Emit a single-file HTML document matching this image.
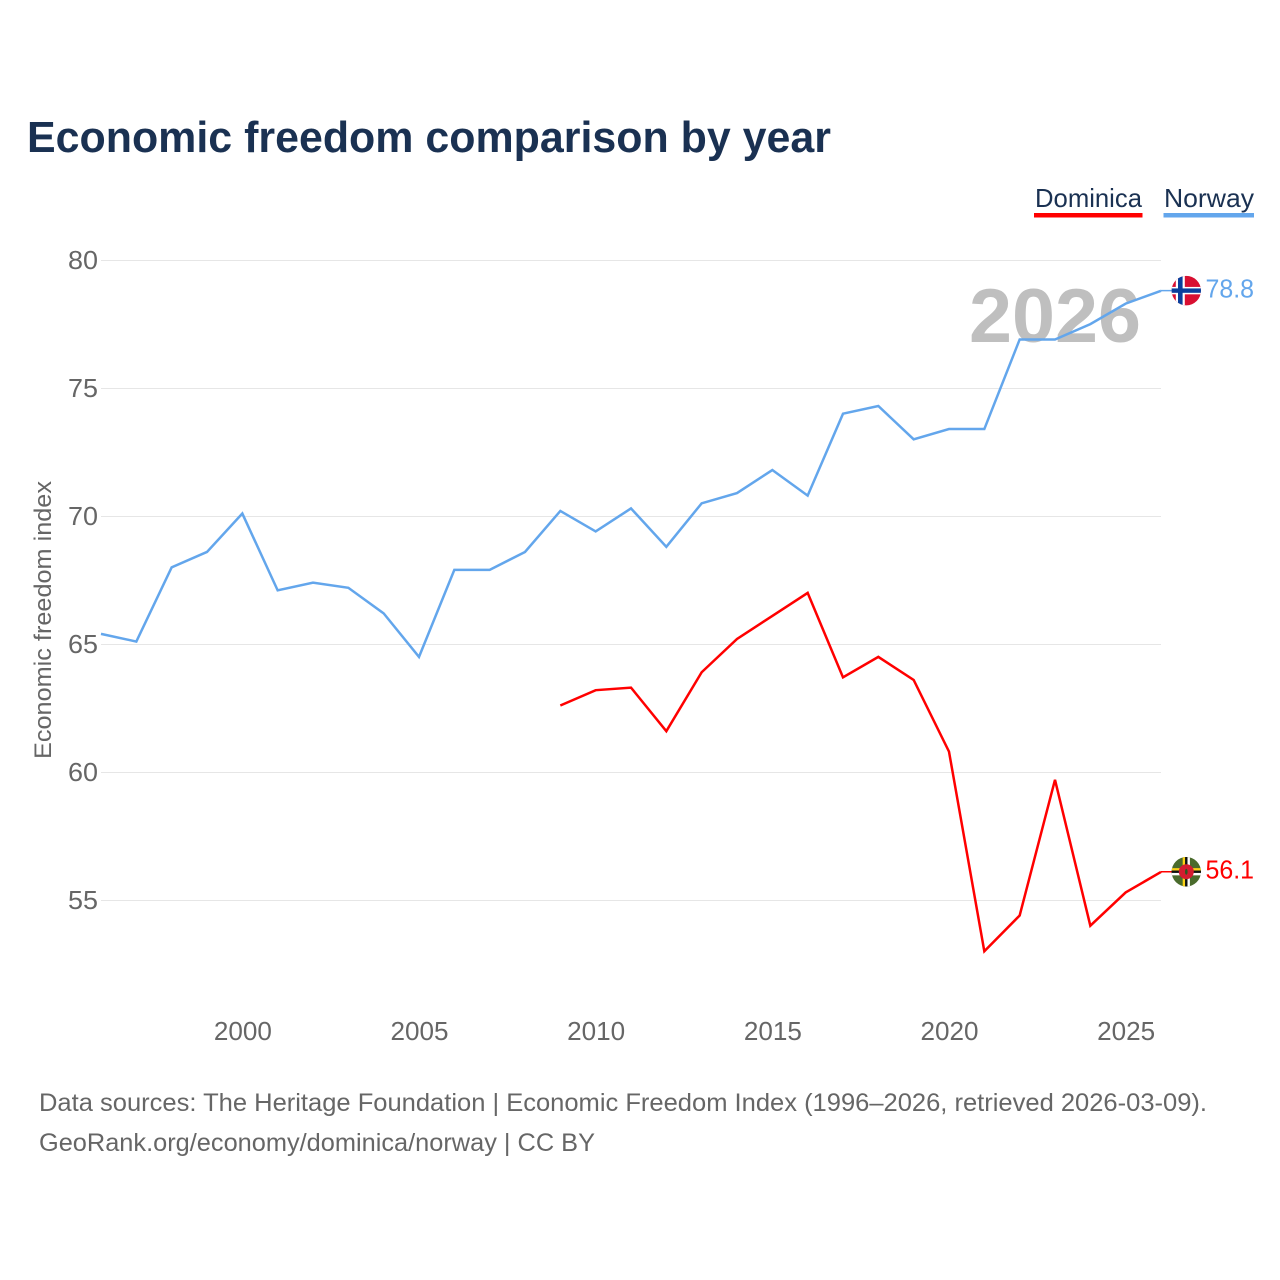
<!DOCTYPE html>
<html lang="en">
<head>
<meta charset="utf-8">
<title>Economic freedom comparison by year</title>
<style>
html,body{margin:0;padding:0;background:#fff;}
svg{display:block;font-family:"Liberation Sans",sans-serif;}
</style>
</head>
<body>
<svg id="chart" width="1280" height="1280" viewBox="0 0 1280 1280" xmlns="http://www.w3.org/2000/svg">
  <rect width="1280" height="1280" fill="#fff"/>
  <text x="27" y="152" font-size="44" font-weight="700" fill="#1a3152" textLength="804" lengthAdjust="spacingAndGlyphs">Economic freedom comparison by year</text>

  <g>
    <text x="1035" y="207" font-size="26" fill="#1a3152" textLength="107" lengthAdjust="spacingAndGlyphs">Dominica</text>
    <rect x="1034" y="213" width="108.500" height="4.500" fill="#ff0000"/>
  </g>
  <g>
    <text x="1164" y="207" font-size="26" fill="#1a3152" textLength="90" lengthAdjust="spacingAndGlyphs">Norway</text>
    <rect x="1163.500" y="213" width="90.500" height="4.500" fill="#63a6ec"/>
  </g>

  <g id="grid"></g>
  <g id="yticks"></g>
  <g id="xticks"></g>

  <text transform="translate(51,759) rotate(-90)" font-size="24" fill="#666" textLength="278" lengthAdjust="spacingAndGlyphs">Economic freedom index</text>

  <text x="969" y="342" font-size="76" font-weight="700" fill="#bfbfbf" textLength="172" lengthAdjust="spacingAndGlyphs">2026</text>

  <g id="series"></g>

  <g id="flag-norway">
    <clipPath id="clip-no"><circle cx="0" cy="0" r="14.700"/></clipPath>
    <g clip-path="url(#clip-no)">
      <rect x="-15" y="-15" width="30" height="30" fill="#d80f31"/>
      <rect x="-15" y="-3.700" width="30" height="7.400" fill="#fff"/>
      <rect x="-10.500" y="-15" width="9" height="30" fill="#fff"/>
      <rect x="-15" y="-2.200" width="30" height="4.400" fill="#0a3f9c"/>
      <rect x="-8.300" y="-15" width="4.600" height="30" fill="#0a3f9c"/>
    </g>
  </g>
  <g id="flag-dominica">
    <clipPath id="clip-dm"><circle cx="0" cy="0" r="14.700"/></clipPath>
    <g clip-path="url(#clip-dm)">
      <rect x="-15" y="-15" width="30" height="30" fill="#4a6b2c"/>
      <rect x="-15" y="-3.600" width="30" height="2.400" fill="#fcd116"/>
      <rect x="-15" y="-1.200" width="30" height="2.400" fill="#111"/>
      <rect x="-15" y="1.200" width="30" height="2.400" fill="#fff"/>
      <rect x="-3.600" y="-15" width="2.400" height="30" fill="#fcd116"/>
      <rect x="-1.200" y="-15" width="2.400" height="30" fill="#111"/>
      <rect x="1.200" y="-15" width="2.400" height="30" fill="#fff"/>
      <circle r="7.500" fill="#d41c30"/>
      <ellipse rx="1.300" ry="3" fill="#2a5a20"/>
    </g>
  </g>

  <text id="label-norway" x="1205.500" font-size="26" fill="#63a6ec" textLength="48.500" lengthAdjust="spacingAndGlyphs"></text>
  <text id="label-dominica" x="1205.500" font-size="26" fill="#ff0000" textLength="48.500" lengthAdjust="spacingAndGlyphs"></text>

  <g>
    <text x="39" y="1111" font-size="25" fill="#666" textLength="1168" lengthAdjust="spacingAndGlyphs">Data sources: The Heritage Foundation | Economic Freedom Index (1996–2026, retrieved 2026-03-09).</text>
    <text x="39" y="1151" font-size="25" fill="#666" textLength="556" lengthAdjust="spacingAndGlyphs">GeoRank.org/economy/dominica/norway | CC BY</text>
  </g>
</svg>
<script>
const firstYear = 1996;
const lastYear = 2026;
const yTicks = [55, 60, 65, 70, 75, 80];
const xTicks = [2000, 2005, 2010, 2015, 2020, 2025];
const norwayStart = 1996;
const norwayValues = [65.4, 65.1, 68.0, 68.6, 70.1, 67.1, 67.4, 67.2, 66.2, 64.5, 67.9, 67.9, 68.6, 70.2, 69.4, 70.3, 68.8, 70.5, 70.9, 71.8, 70.8, 74.0, 74.3, 73.0, 73.4, 73.4, 76.9, 76.9, 77.5, 78.3, 78.8];
const dominicaStart = 2009;
const dominicaValues = [62.6, 63.2, 63.3, 61.6, 63.9, 65.2, 66.1, 67.0, 63.7, 64.5, 63.6, 60.8, 53.0, 54.4, 59.7, 54.0, 55.3, 56.1];

const svgNS = 'http://www.w3.org/2000/svg';
const plotLeft = 101;
const plotRight = 1161;
const yTop = 260.5;
const yBottom = 900.5;
function xScale(year) {
  return plotLeft + (year - firstYear) * (plotRight - plotLeft) / (lastYear - firstYear);
}
function yScale(value) {
  return yBottom - (value - yTicks[0]) * (yBottom - yTop) / (yTicks[yTicks.length - 1] - yTicks[0]);
}
const gridGroup = document.getElementById('grid');
const yGroup = document.getElementById('yticks');
const xGroup = document.getElementById('xticks');
const seriesGroup = document.getElementById('series');

yTicks.forEach(function (tick) {
  const line = document.createElementNS(svgNS, 'line');
  
  
  line.setAttribute('x1', plotLeft);
  line.setAttribute('x2', plotRight);
  line.setAttribute('y1', yScale(tick));
  line.setAttribute('y2', yScale(tick));
  line.setAttribute('stroke', '#e6e6e6');
  line.setAttribute('stroke-width', '1');
  gridGroup.appendChild(line);
  const label = document.createElementNS(svgNS, 'text');
  
  
  label.setAttribute('x', 68);
  label.setAttribute('y', yScale(tick) + 8.5);
  label.setAttribute('font-size', '26');
  label.setAttribute('fill', '#666');
  label.setAttribute('textLength', '30');
  label.setAttribute('lengthAdjust', 'spacingAndGlyphs');
  label.textContent = tick;
  yGroup.appendChild(label);
});

xTicks.forEach(function (tick) {
  const label = document.createElementNS(svgNS, 'text');
  
  
  label.setAttribute('x', xScale(tick) - 28.500);
  label.setAttribute('y', 1040);
  label.setAttribute('font-size', '26');
  label.setAttribute('fill', '#666');
  label.setAttribute('textLength', '58');
  label.setAttribute('lengthAdjust', 'spacingAndGlyphs');
  label.textContent = tick;
  xGroup.appendChild(label);
});

function pointsFor(values, start) {
  return values.map(function (v, i) {
    return xScale(start + i).toFixed(2) + ',' + (yScale(v) - 0.4).toFixed(2);
  }).join(' ');
}

const dominicaLine = document.createElementNS(svgNS, 'polyline');


dominicaLine.setAttribute('points', pointsFor(dominicaValues, dominicaStart));
dominicaLine.setAttribute('fill', 'none');
dominicaLine.setAttribute('stroke', '#ff0000');
dominicaLine.setAttribute('stroke-width', '2.500');
seriesGroup.appendChild(dominicaLine);

const norwayLine = document.createElementNS(svgNS, 'polyline');


norwayLine.setAttribute('points', pointsFor(norwayValues, norwayStart));
norwayLine.setAttribute('fill', 'none');
norwayLine.setAttribute('stroke', '#63a6ec');
norwayLine.setAttribute('stroke-width', '2.500');
seriesGroup.appendChild(norwayLine);

function placeEnd(flagId, labelId, connectorName, color, values) {
  const last = values[values.length - 1];
  const y = yScale(last) - 0.6;
  const connector = document.createElementNS(svgNS, 'line');
  
  
  connector.setAttribute('x1', plotRight);
  connector.setAttribute('x2', plotRight + 12);
  connector.setAttribute('y1', y);
  connector.setAttribute('y2', y);
  connector.setAttribute('stroke', color);
  connector.setAttribute('stroke-width', '1.500');
  seriesGroup.appendChild(connector);
  document.getElementById(flagId).setAttribute('transform', 'translate(' + (plotRight + 25.3) + ',' + y + ')');
  const label = document.getElementById(labelId);
  label.setAttribute('y', y + 6.8);
  label.textContent = last.toFixed(1);
}
placeEnd('flag-norway', 'label-norway', 'norway-end-connector', '#63a6ec', norwayValues);
placeEnd('flag-dominica', 'label-dominica', 'dominica-end-connector', '#ff0000', dominicaValues);
</script>
</body>
</html>
